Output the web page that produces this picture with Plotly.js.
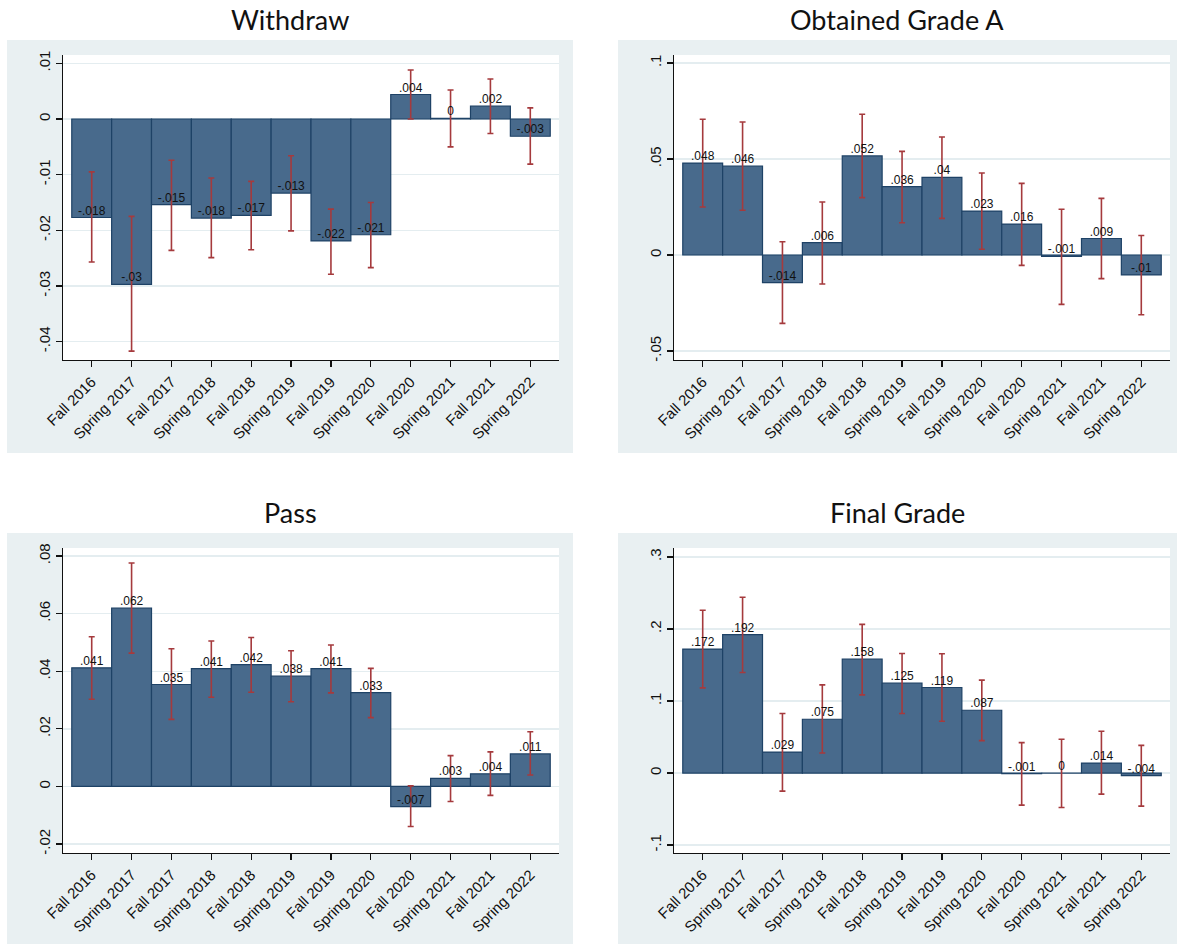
<!DOCTYPE html>
<html>
<head>
<meta charset="utf-8">
<script src="https://cdn.plot.ly/plotly-3.0.1.min.js"></script>
<style>
html,body{margin:0;padding:0;background:#ffffff;}
#chart{width:1177px;height:944px;}
</style>
</head>
<body>
<div id="chart"></div>
<script>
// ---------- data ----------
const terms = ["Fall 2016","Spring 2017","Fall 2017","Spring 2018","Fall 2018","Spring 2019",
               "Fall 2019","Spring 2020","Fall 2020","Spring 2021","Fall 2021","Spring 2022"];

const withdrawVal = [-0.0177,-0.0297,-0.0154,-0.0178,-0.0173,-0.0133,-0.0219,-0.0208,0.0044,0.0001,0.0023,-0.0031];
const withdrawLo  = [-0.0257,-0.0417,-0.0236,-0.0249,-0.0235,-0.0201,-0.0279,-0.0267,0.0000,-0.0050,-0.0026,-0.0081];
const withdrawHi  = [-0.0095,-0.0175,-0.0074,-0.0106,-0.0112,-0.0066,-0.0162,-0.0150,0.0088,0.0052,0.0072,0.0020];

const gradeAVal = [0.0479,0.0463,-0.0144,0.0064,0.0516,0.0356,0.0404,0.0229,0.0161,-0.0007,0.0086,-0.0104];
const gradeALo  = [0.0250,0.0233,-0.0356,-0.0151,0.0299,0.0168,0.0191,0.0030,-0.0054,-0.0257,-0.0123,-0.0311];
const gradeAHi  = [0.0707,0.0693,0.0069,0.0276,0.0733,0.0540,0.0615,0.0427,0.0373,0.0238,0.0295,0.0102];

const passVal = [0.0412,0.0619,0.0354,0.0409,0.0423,0.0383,0.0409,0.0326,-0.0070,0.0028,0.0044,0.0113];
const passLo  = [0.0303,0.0463,0.0233,0.0310,0.0327,0.0294,0.0325,0.0239,-0.0139,-0.0052,-0.0031,0.0040];
const passHi  = [0.0520,0.0776,0.0478,0.0505,0.0517,0.0471,0.0491,0.0410,0.0002,0.0107,0.0120,0.0190];

const finalVal = [0.1722,0.1923,0.0292,0.0747,0.1582,0.1248,0.1188,0.0872,-0.0009,0.0000,0.0139,-0.0037];
const finalLo  = [0.1183,0.1397,-0.0251,0.0278,0.1086,0.0826,0.0719,0.0450,-0.0445,-0.0478,-0.0292,-0.0459];
const finalHi  = [0.2260,0.2441,0.0826,0.1224,0.2065,0.1661,0.1657,0.1290,0.0422,0.0469,0.0580,0.0385];

const withdrawTicks = [-0.04,-0.03,-0.02,-0.01,0,0.01];
const withdrawTickText = ["-.04","-.03","-.02","-.01","0",".01"];
const gradeATicks = [-0.05,0,0.05,0.1];
const gradeATickText = ["-.05","0",".05",".1"];
const passTicks = [-0.02,0,0.02,0.04,0.06,0.08];
const passTickText = ["-.02","0",".02",".04",".06",".08"];
const finalTicks = [-0.1,0,0.1,0.2,0.3];
const finalTickText = ["-.1","0",".1",".2",".3"];

const titles = ["Withdraw","Obtained Grade A","Pass","Final Grade"];

// ---------- styling / layout ----------
const W = 1177, H = 944;
const BAR = "#486a8c", BAR_LINE = "#1e4266", ERR = "#a53a3d", GRID = "#e4edf0", BG = "#e9f0f2";
const SANS = "Arial, Arimo, Liberation Sans, Helvetica, sans-serif";

function fmt(v){
  let s = (Math.round(v*1000)/1000).toString();
  if (s === "-0") s = "0";
  return s.replace(/^(-?)0\./, "$1.");
}
const px = x => x / W;
const py = y => 1 - y / H;

const panels = [
  {val: withdrawVal, lo: withdrawLo, hi: withdrawHi, tv: withdrawTicks, tt: withdrawTickText,
   yr: [-0.0433, 0.0115], box: [7,40,573,453], plot: [63,55,559,360]},
  {val: gradeAVal, lo: gradeALo, hi: gradeAHi, tv: gradeATicks, tt: gradeATickText,
   yr: [-0.0547, 0.1042], box: [618,40,1177,453], plot: [674,55,1170,360]},
  {val: passVal, lo: passLo, hi: passHi, tv: passTicks, tt: passTickText,
   yr: [-0.0231, 0.0828], box: [7,533,573,944], plot: [63,548,559,853]},
  {val: finalVal, lo: finalLo, hi: finalHi, tv: finalTicks, tt: finalTickText,
   yr: [-0.111, 0.3125], box: [618,533,1177,944], plot: [674,548,1170,853]}
];

const traces = [];
const layout = {
  width: W, height: H, autosize: false,
  margin: {l:0, r:0, t:0, b:0, pad:0},
  paper_bgcolor: "#ffffff", plot_bgcolor: "rgba(0,0,0,0)",
  showlegend: false, hovermode: false,
  font: {family: SANS, color: "#111111"},
  shapes: [], annotations: []
};

panels.forEach((p, i) => {
  const n = i === 0 ? "" : String(i + 1);
  const xa = "x" + n, ya = "y" + n;
  const xr = p.plot, b = p.box;

  traces.push({
    type: "bar", x: terms, y: p.val, xaxis: xa, yaxis: ya, width: 1,
    marker: {color: BAR, line: {color: BAR_LINE, width: 1.2}},
    error_y: {type: "data", symmetric: false,
      array: p.val.map((v, k) => p.hi[k] - v),
      arrayminus: p.val.map((v, k) => v - p.lo[k]),
      color: ERR, thickness: 1.6, width: 3}
  });
  traces.push({
    type: "scatter", mode: "text", x: terms, y: p.val, xaxis: xa, yaxis: ya,
    text: p.val.map(fmt), textposition: "top center",
    textfont: {family: SANS, size: 12, color: "#111111"},
    cliponaxis: false
  });

  layout["xaxis" + n] = {
    domain: [px(xr[0]), px(xr[2])], anchor: ya,
    type: "category", range: [-0.72, 11.72],
    showgrid: false, zeroline: false,
    showline: true, linecolor: "#111111", linewidth: 1.3,
    ticks: "outside", ticklen: 6, tickcolor: "#111111", tickwidth: 1.2,
    tickangle: -45, tickfont: {family: SANS, size: 15, color: "#111111"}, fixedrange: true
  };
  layout["yaxis" + n] = {
    domain: [py(xr[3]), py(xr[1])], anchor: xa,
    range: p.yr, tickmode: "array", tickvals: p.tv, ticktext: p.tt,
    showgrid: true, gridcolor: GRID, gridwidth: 1.5, zeroline: false,
    showline: true, linecolor: "#111111", linewidth: 1.3,
    ticks: "outside", ticklen: 6, tickcolor: "#111111", tickwidth: 1.2,
    tickangle: -90, tickfont: {family: SANS, size: 15, color: "#111111"}, fixedrange: true
  };

  layout.shapes.push({type: "rect", xref: "paper", yref: "paper", layer: "below",
    x0: px(b[0]), x1: px(b[2]), y0: py(b[3]), y1: py(b[1]),
    fillcolor: BG, line: {width: 0}});
  layout.shapes.push({type: "rect", xref: "paper", yref: "paper", layer: "below",
    x0: px(xr[0]), x1: px(xr[2]), y0: py(xr[3]), y1: py(xr[1]),
    fillcolor: "#ffffff", line: {width: 0}});

  layout.annotations.push({
    xref: "paper", yref: "paper", x: px((b[0] + b[2]) / 2), y: py(b[1] - 21),
    xanchor: "center", yanchor: "middle", showarrow: false,
    text: titles[i], font: {family: "Lato, sans-serif", size: 27, color: "#111111"}
  });
});

Plotly.newPlot("chart", traces, layout, {staticPlot: true, displayModeBar: false});
</script>
</body>
</html>
